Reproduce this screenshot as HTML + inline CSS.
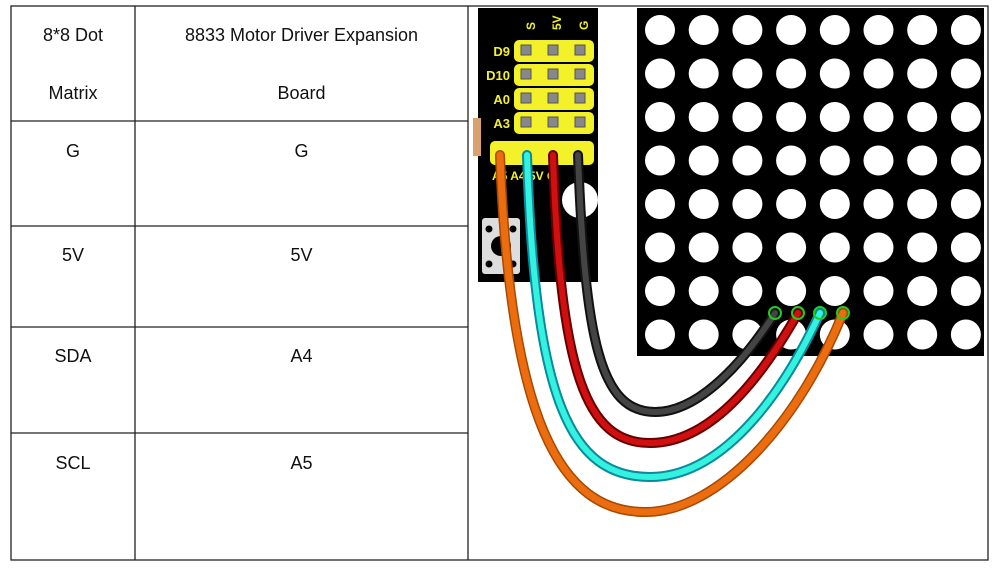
<!DOCTYPE html>
<html><head><meta charset="utf-8"><style>
body{margin:0;width:1001px;height:580px;background:#fff;overflow:hidden;font-family:"Liberation Sans",sans-serif}
.t{position:absolute;font-size:18px;color:#111;text-align:center}
</style></head><body>
<svg width="1001" height="580" style="position:absolute;left:0;top:0">
<g stroke="#222" stroke-width="1.3" fill="none">
<rect x="11" y="6" width="977" height="554"/>
<line x1="135" y1="6" x2="135" y2="560"/>
<line x1="468" y1="6" x2="468" y2="560"/>
<line x1="11" y1="121" x2="468" y2="121"/>
<line x1="11" y1="226" x2="468" y2="226"/>
<line x1="11" y1="327" x2="468" y2="327"/>
<line x1="11" y1="433" x2="468" y2="433"/>
</g>
<!-- matrix -->
<rect x="637" y="8" width="347" height="348" fill="#000"/>
<g fill="#fff" id="dots"></g>
<!-- board -->
<rect x="478" y="8" width="120" height="274" fill="#000"/>
<rect x="473" y="118" width="8" height="38" fill="#d9a070"/>
<g fill="#f3f12a">
<rect x="514" y="40" width="80" height="22" rx="5"/>
<rect x="514" y="64" width="80" height="22" rx="5"/>
<rect x="514" y="88" width="80" height="22" rx="5"/>
<rect x="514" y="112" width="80" height="22" rx="5"/>
<rect x="490" y="141" width="104" height="24" rx="5"/>
</g>
<g fill="#888" stroke="#555">
<rect x="521" y="45" width="10" height="10"/><rect x="548" y="45" width="10" height="10"/><rect x="575" y="45" width="10" height="10"/>
<rect x="521" y="69" width="10" height="10"/><rect x="548" y="69" width="10" height="10"/><rect x="575" y="69" width="10" height="10"/>
<rect x="521" y="93" width="10" height="10"/><rect x="548" y="93" width="10" height="10"/><rect x="575" y="93" width="10" height="10"/>
<rect x="521" y="117" width="10" height="10"/><rect x="548" y="117" width="10" height="10"/><rect x="575" y="117" width="10" height="10"/>
</g>
<g fill="#f3f12a" font-weight="bold" font-size="13" font-family="Liberation Sans">
<text x="510" y="56" text-anchor="end">D9</text>
<text x="510" y="80" text-anchor="end">D10</text>
<text x="510" y="104" text-anchor="end">A0</text>
<text x="510" y="128" text-anchor="end">A3</text>
<text x="531" y="34" transform="rotate(-90 531 30)" font-size="12">S</text>
<text x="557" y="34" transform="rotate(-90 557 30)" font-size="12">5V</text>
<text x="584" y="34" transform="rotate(-90 584 30)" font-size="12">G</text>
<text x="492" y="180" font-size="12">A5 A4 5V G</text>
</g>
<circle cx="580" cy="200" r="18" fill="#fff"/>
<rect x="482" y="218" width="38" height="56" rx="3" fill="#ddd"/>
<circle cx="501" cy="246" r="10" fill="#000"/>
<circle cx="489" cy="229" r="3.5" fill="#000"/><circle cx="513" cy="229" r="3.5" fill="#000"/>
<circle cx="489" cy="264" r="3.5" fill="#000"/><circle cx="513" cy="264" r="3.5" fill="#000"/>
<!-- wires -->
<g fill="none" stroke-linecap="round">
<path d="M500,155 C510,420 560,512 645,512 C720,512 800,420 843,313" stroke="#a64a00" stroke-width="10"/>
<path d="M500,155 C510,420 560,512 645,512 C720,512 800,420 843,313" stroke="#ec6c10" stroke-width="7"/>
<path d="M527,155 C535,400 570,477 650,477 C720,477 780,400 820,313" stroke="#0a8a9a" stroke-width="10"/>
<path d="M527,155 C535,400 570,477 650,477 C720,477 780,400 820,313" stroke="#33f2e0" stroke-width="6"/>
<path d="M553,155 C560,370 585,443 650,443 C710,443 760,380 798,313" stroke="#600" stroke-width="10"/>
<path d="M553,155 C560,370 585,443 650,443 C710,443 760,380 798,313" stroke="#d01010" stroke-width="6"/>
<path d="M578,155 C585,340 600,412 655,412 C700,412 745,360 775,313" stroke="#111" stroke-width="10"/>
<path d="M578,155 C585,340 600,412 655,412 C700,412 745,360 775,313" stroke="#444" stroke-width="6"/>
</g>
<g fill="none" stroke="#2c2" stroke-width="2">
<circle cx="775" cy="313" r="6"/><circle cx="798" cy="313" r="6"/><circle cx="820" cy="313" r="6"/><circle cx="843" cy="313" r="6"/>
</g>
</svg>
<script>
var g=document.getElementById('dots'),s='';
for(var r=0;r<8;r++)for(var c=0;c<8;c++){s+='<circle cx="'+(660+c*43.7)+'" cy="'+(30+r*43.5)+'" r="15"/>';}
g.innerHTML=s;
</script>
<div class="t" style="left:11px;width:124px;top:25px">8*8 Dot</div>
<div class="t" style="left:11px;width:124px;top:83px">Matrix</div>
<div class="t" style="left:135px;width:333px;top:25px">8833 Motor Driver Expansion</div>
<div class="t" style="left:135px;width:333px;top:83px">Board</div>
<div class="t" style="left:11px;width:124px;top:141px">G</div>
<div class="t" style="left:135px;width:333px;top:141px">G</div>
<div class="t" style="left:11px;width:124px;top:245px">5V</div>
<div class="t" style="left:135px;width:333px;top:245px">5V</div>
<div class="t" style="left:11px;width:124px;top:346px">SDA</div>
<div class="t" style="left:135px;width:333px;top:346px">A4</div>
<div class="t" style="left:11px;width:124px;top:453px">SCL</div>
<div class="t" style="left:135px;width:333px;top:453px">A5</div>
</body></html>
